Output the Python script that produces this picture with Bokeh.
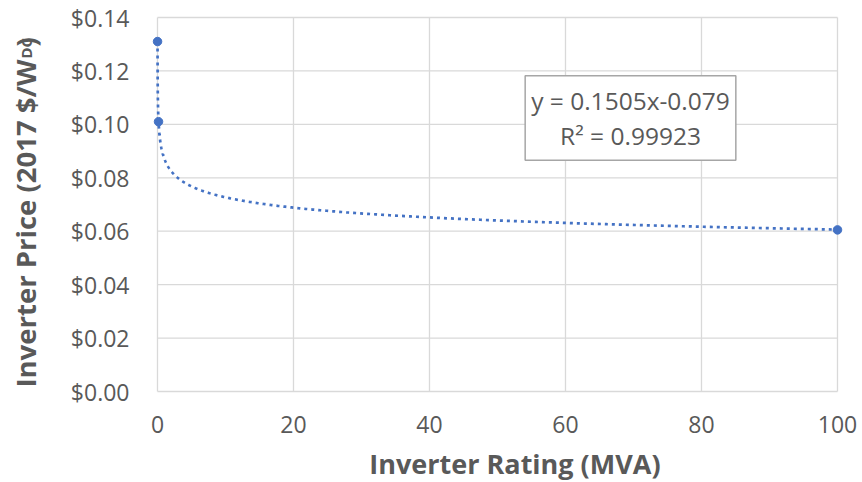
from bokeh.plotting import figure
from bokeh.layouts import row, column
from bokeh.models import Label, FixedTicker, NumeralTickFormatter
from bokeh.embed import file_html
from bokeh.resources import INLINE
import numpy as np
import math

# ---- data ----
rating_mva = [0.0058, 0.15, 100.0]          # inverter rating, MVA
price_usd_per_wdc = [0.131, 0.101, 0.0605]  # 2017 $/W_DC

# trendline shown on chart: y = 0.1505 x^-0.079 (x in kVA)
TREND_A = 0.1505
TREND_B = -0.079
R2_TEXT = "0.99923"

x_ticks = [0, 20, 40, 60, 80, 100]
y_ticks = [0.0, 0.02, 0.04, 0.06, 0.08, 0.10, 0.12, 0.14]

X_TITLE = "Inverter Rating (MVA)"
Y_TITLE_MAIN = "Inverter Price (2017 $/W"
Y_TITLE_SUB = "DC"
Y_TITLE_END = ")"

BLUE = "#4472C4"
GRID = "#d9d9d9"
TXT = "#595959"
FONT = "Open Sans"

# ---- geometry (pixels) ----
W, H = 862, 482
LEFT_W = 48                 # strip holding the y title
BOTTOM_H = 40               # strip holding the x title
PX_X0, PX_X100 = 157, 837   # plot area in the window
PX_Y0, PX_Y014 = 391, 17
PAD = 6                     # extra frame so markers are not clipped

ppx = (PX_X100 - PX_X0) / (x_ticks[-1] - x_ticks[0])
ppy = (PX_Y0 - PX_Y014) / (y_ticks[-1] - y_ticks[0])
xr = (x_ticks[0] - PAD / ppx, x_ticks[-1] + PAD / ppx)
yr = (y_ticks[0] - PAD / ppy, y_ticks[-1] + PAD / ppy)

main_w = W - LEFT_W
main_h = H - BOTTOM_H
p = figure(width=main_w, height=main_h, output_backend="svg", toolbar_location=None,
           x_range=xr, y_range=yr,
           min_border_left=PX_X0 - PAD - LEFT_W, min_border_right=W - PX_X100 - PAD,
           min_border_top=PX_Y014 - PAD, min_border_bottom=main_h - (PX_Y0 + PAD))
p.outline_line_color = None
p.grid.visible = False

# grid lines from the tick arrays
n_x, n_y = len(x_ticks), len(y_ticks)
p.segment(x0=x_ticks, y0=[y_ticks[0]] * n_x, x1=x_ticks, y1=[y_ticks[-1]] * n_x,
          line_color=GRID, line_width=1.3)
p.segment(x0=[x_ticks[0]] * n_y, y0=y_ticks, x1=[x_ticks[-1]] * n_y, y1=y_ticks,
          line_color=GRID, line_width=1.3)

# trendline
tx = np.geomspace(min(rating_mva), max(rating_mva), 800)
ty = TREND_A * (tx * 1000.0) ** TREND_B
p.line(tx, ty, line_color=BLUE, line_width=2.7, line_dash="3 4")

# points
p.scatter(rating_mva, price_usd_per_wdc, size=8.5, color=BLUE)

# axes
p.xaxis.ticker = FixedTicker(ticks=x_ticks)
p.yaxis.ticker = FixedTicker(ticks=y_ticks)
p.yaxis.formatter = NumeralTickFormatter(format="$0.00")
for ax in (p.xaxis[0], p.yaxis[0]):
    ax.major_tick_line_color = None
    ax.minor_tick_line_color = None
    ax.axis_line_color = None
    ax.major_label_text_font = FONT
    ax.major_label_text_font_size = "23px"
    ax.major_label_text_color = TXT
p.xaxis.major_label_standoff = 12
p.yaxis.major_label_standoff = 16

# equation box
def dx(px):
    return x_ticks[0] + (px - PX_X0) / ppx
def dy(py):
    return y_ticks[0] + (PX_Y0 - py) / ppy

p.add_layout(Label(x=dx(630), y=dy(117.5),
                   text="y = %.4fx%.3f\nR² = %s" % (TREND_A, TREND_B, R2_TEXT),
                   text_font=FONT, text_font_size="24.5px", text_color=TXT,
                   text_align="center", text_baseline="middle", text_line_height=1.07,
                   background_fill_color="white", border_line_color="#a6a6a6", border_line_width=1.5,
                   padding=(6, 8)))

# ---- left strip: y title (data units = window pixels, y measured from bottom) ----
lf = figure(width=LEFT_W, height=H, output_backend="svg", toolbar_location=None,
            x_range=(0, LEFT_W), y_range=(0, H), x_axis_type=None, y_axis_type=None,
            min_border=0)
lf.outline_line_color = None
lf.grid.visible = False
common = dict(text_font=FONT, text_color=TXT, text_font_style="bold", angle=math.pi / 2,
              text_baseline="alphabetic")
lf.add_layout(Label(x=25, y=H - 59, text=Y_TITLE_MAIN, text_font_size="27.5px",
                    text_align="right", **common))
lf.add_layout(Label(x=25, y=H - 58, text=Y_TITLE_SUB, text_font_size="15px",
                    text_align="left", **common))
lf.add_layout(Label(x=25, y=H - 46, text=Y_TITLE_END, text_font_size="27.5px",
                    text_align="left", **common))

# ---- bottom strip: x title ----
bf = figure(width=main_w, height=BOTTOM_H, output_backend="svg", toolbar_location=None,
            x_range=(LEFT_W, W), y_range=(0, BOTTOM_H), x_axis_type=None, y_axis_type=None,
            min_border=0)
bf.outline_line_color = None
bf.grid.visible = False
bf.add_layout(Label(x=475.5, y=1, text=X_TITLE, text_font=FONT, text_font_style="bold",
                    text_font_size="27px", text_color=TXT, text_align="center",
                    text_baseline="bottom"))

layout = row(lf, column(p, bf, spacing=0), spacing=0)
open("out.html", "w").write(file_html(layout, INLINE))
